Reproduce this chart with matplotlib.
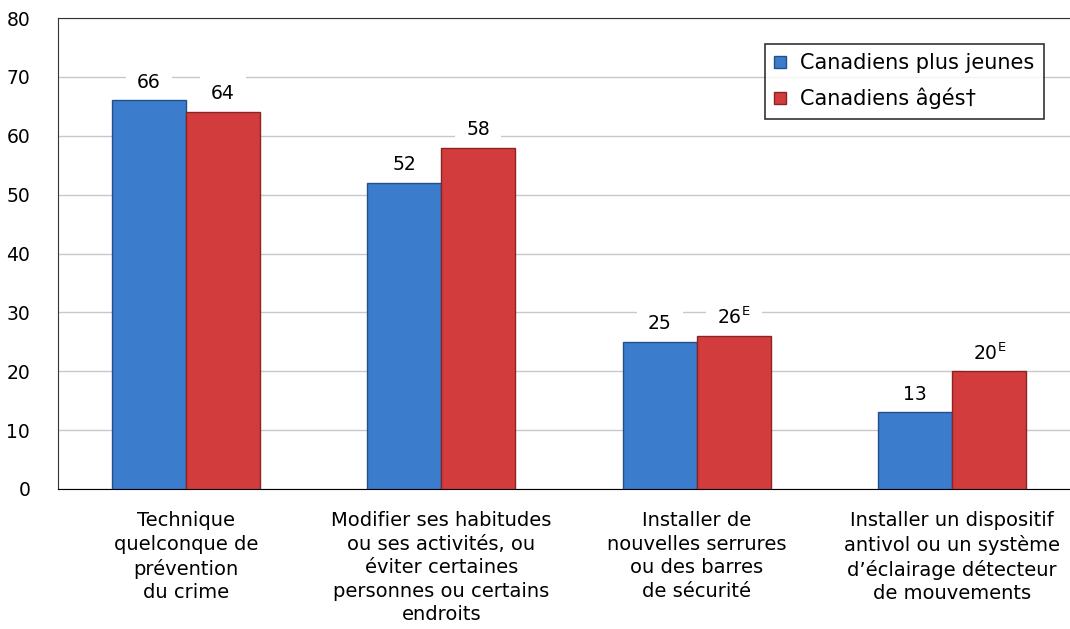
import numpy as np
from matplotlib import pyplot as plt

categories = ['Technique\nquelconque de\nprévention\ndu crime',
              'Modifier ses habitudes\nou ses activités, ou\néviter certaines\npersonnes ou certains\nendroits',
              'Installer de\nnouvelles serrures\nou des barres\nde sécurité',
              'Installer un dispositif\nantivol ou un système\nd\u2019éclairage détecteur\nde mouvements']
younger = [66, 52, 25, 13]
older = [64, 58, 26, 20]
younger_labels = ['66', '52', '25', '13']
older_labels = ['64', '58', '26$^{\\mathrm{E}}$', '20$^{\\mathrm{E}}$']
series_names = ['Canadiens plus jeunes', 'Canadiens âgés\u2020']

plt.rcParams['font.family'] = ['DejaVu Sans']
plt.rcParams['mathtext.default'] = 'regular'
fig = plt.figure(figsize=(10.70, 6.29), dpi=100)
ax = fig.add_axes([58 / 1070, 1 - 489 / 629, (1080 - 58) / 1070, (489 - 18) / 629])

x = np.arange(len(categories))
w = 0.29
blue = '#3b7ccc'
red = '#d23c3c'
ax.bar(x - w / 2, younger, w, color=blue, edgecolor='#24508a', linewidth=1, zorder=3, label=series_names[0])
ax.bar(x + w / 2, older, w, color=red, edgecolor='#8a2424', linewidth=1, zorder=3, label=series_names[1])

for xi, v, s in zip(x - w / 2, younger, younger_labels):
    ax.text(xi, v + 3.1, s, ha='center', va='center', fontsize=13.5,
            bbox=dict(facecolor='white', edgecolor='none', pad=8), zorder=2)
for xi, v, s in zip(x + w / 2, older, older_labels):
    ax.text(xi, v + 3.1, s, ha='center', va='center', fontsize=13.5,
            bbox=dict(facecolor='white', edgecolor='none', pad=8), zorder=2)

ax.set_xlim(-0.5, 3.5)
ax.set_ylim(0, 80)
ax.set_yticks(range(0, 81, 10))
ax.yaxis.grid(True, color='#c8c8c8', linewidth=1, zorder=0)
ax.set_axisbelow(True)
ax.set_xticks(x)
ax.set_xticklabels(categories, fontsize=14, linespacing=1.3, va='top')
ax.tick_params(axis='x', length=0, pad=16)
ax.tick_params(axis='y', length=0, labelsize=13.5, pad=20)
for s in ['top', 'left', 'right']:
    ax.spines[s].set_color('#333333')
ax.spines['bottom'].set_color('black')

leg = ax.legend(loc='upper left', bbox_to_anchor=((765 - 58) / 1022, (489 - 44) / 471),
                fontsize=15, frameon=True, fancybox=False, edgecolor='black',
                handlelength=0.55, handleheight=0.55, handletextpad=0.7, borderpad=0.45,
                labelspacing=0.7, borderaxespad=0)
leg.get_frame().set_linewidth(1.2)

plt.savefig('out.png', dpi=100)
